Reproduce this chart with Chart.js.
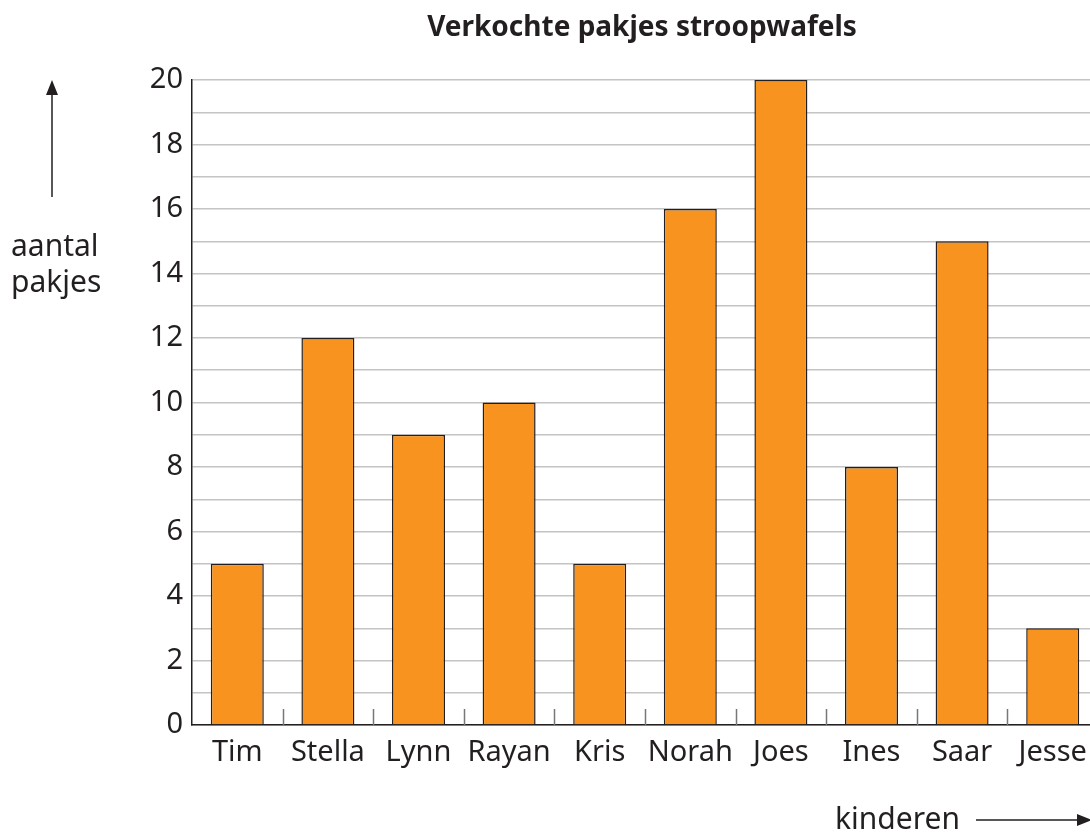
<!DOCTYPE html>
<html lang="nl">
<head>
  <meta charset="UTF-8">
  <title>Verkochte pakjes stroopwafels</title>
  <script src="https://cdn.jsdelivr.net/npm/chart.js"></script>
  <style>
    html, body { margin: 0; padding: 0; background: #fff; overflow: hidden; }
    #wrap { position: relative; width: 1100px; height: 835px; }
  </style>
</head>
<body>
  <div id="wrap"><canvas id="chart"></canvas></div>

  <script>
    const kinderen = ['Tim', 'Stella', 'Lynn', 'Rayan', 'Kris', 'Norah', 'Joes', 'Ines', 'Saar', 'Jesse'];
    const pakjes = [5, 12, 9, 10, 5, 16, 20, 8, 15, 3];
    const titel = 'Verkochte pakjes stroopwafels';
    const yLabel = ['aantal', 'pakjes'];
    const xLabel = 'kinderen';

    const ink = '#231f20';
    const font = '"Noto Sans", sans-serif';

    // title, axis labels, arrows and the little category ticks inside the plot
    const extras = {
      id: 'extras',
      afterDraw(chart) {
        const ctx = chart.ctx;
        const area = chart.chartArea;
        const x = chart.scales.x;
        ctx.save();

        // ticks between categories
        ctx.strokeStyle = '#777';
        ctx.lineWidth = 1.5;
        for (let i = 1; i < kinderen.length; i++) {
          const px = Math.round((x.getPixelForValue(i - 1) + x.getPixelForValue(i)) / 2) + 0.5;
          ctx.beginPath();
          ctx.moveTo(px, area.bottom - 16);
          ctx.lineTo(px, area.bottom);
          ctx.stroke();
        }

        ctx.fillStyle = ink;
        ctx.font = 'bold 28px ' + font;
        ctx.textAlign = 'center';
        ctx.textBaseline = 'alphabetic';
        ctx.fillText(titel, (area.left + area.right) / 2 - 3, 36);

        ctx.font = '30px ' + font;
        ctx.textAlign = 'left';
        ctx.fillText(yLabel[0], 11, 256);
        ctx.fillText(yLabel[1], 11, 292);
        ctx.fillText(xLabel, 835, 829);

        // arrows
        ctx.strokeStyle = ink;
        ctx.lineWidth = 1.5;
        ctx.beginPath();
        ctx.moveTo(52, 197);
        ctx.lineTo(52, 92);
        ctx.moveTo(976, 820);
        ctx.lineTo(1078, 820);
        ctx.stroke();
        ctx.beginPath();
        ctx.moveTo(52, 80);
        ctx.lineTo(46, 95);
        ctx.lineTo(58, 95);
        ctx.closePath();
        ctx.moveTo(1092, 820);
        ctx.lineTo(1077, 814);
        ctx.lineTo(1077, 826);
        ctx.closePath();
        ctx.fill();
        ctx.restore();
      }
    };

    new Chart(document.getElementById('chart'), {
      type: 'bar',
      data: {
        labels: kinderen,
        datasets: [{
          data: pakjes,
          backgroundColor: '#f7931e',
          borderColor: ink,
          borderWidth: 1.5,
          categoryPercentage: 1,
          barPercentage: 0.585
        }]
      },
      options: {
        responsive: true,
        maintainAspectRatio: false,
        animation: false,
        layout: { padding: { top: 80, right: 2, left: 0, bottom: 0 } },
        plugins: {
          legend: { display: false },
          title: { display: false },
          tooltip: { enabled: false }
        },
        scales: {
          x: {
            grid: { display: false },
            border: { color: ink, width: 1.5 },
            ticks: { color: ink, font: { family: font, size: 29 }, padding: 2, maxRotation: 0, autoSkip: false },
            afterFit(s) { s.height = 110; }
          },
          y: {
            min: 0,
            max: 20,
            grid: { color: '#c4c4c4', lineWidth: 1.5, drawTicks: false },
            border: { color: ink, width: 1.5 },
            ticks: {
              stepSize: 1,
              autoSkip: false,
              color: ink,
              font: { family: font, size: 29 },
              padding: 9,
              callback: v => (v % 2 === 0 ? v : '')
            },
            afterFit(s) { s.width = 192; }
          }
        }
      },
      plugins: [extras]
    });
  </script>
</body>
</html>
